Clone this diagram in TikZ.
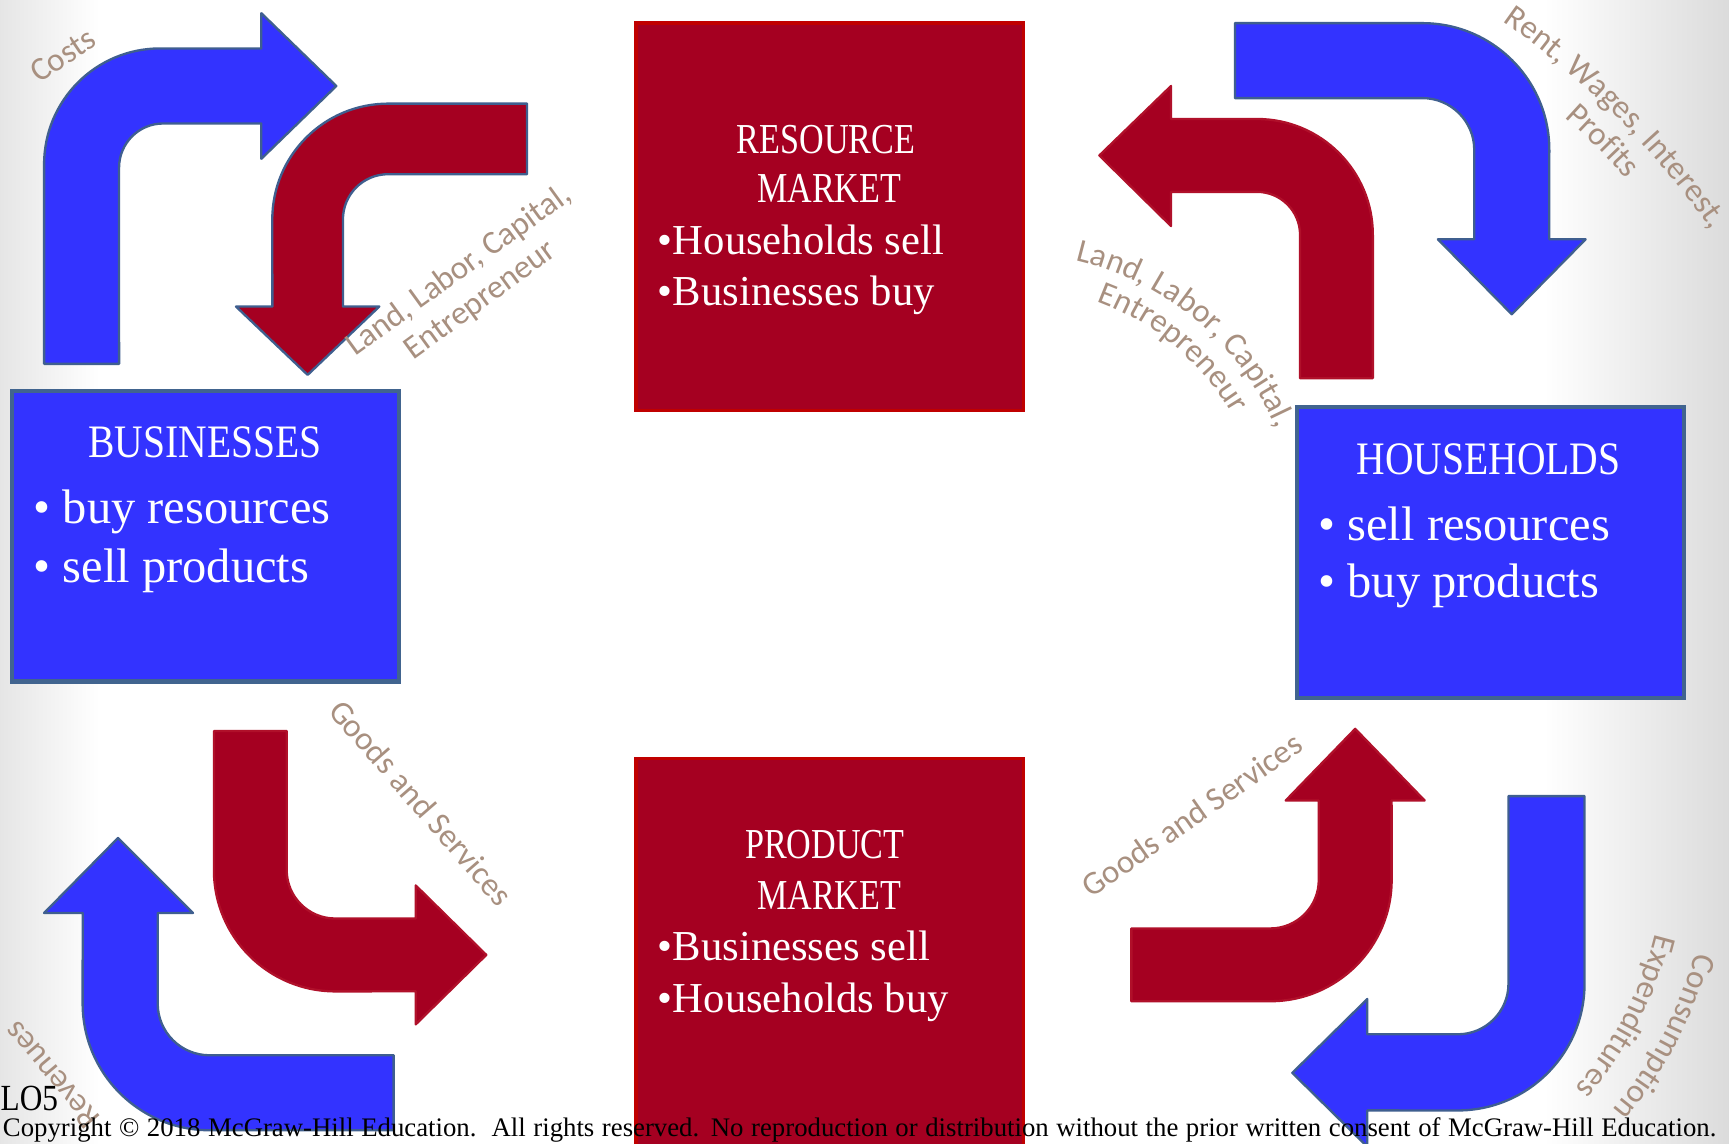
\documentclass[tikz,border=0pt]{standalone}
\usepackage{fontspec}
\setmainfont{Liberation Serif}
\newfontfamily\lblfont{Carlito}
\usetikzlibrary{decorations.text}
\definecolor{boxred}{HTML}{A50021}
\definecolor{boxredline}{HTML}{C00000}
\definecolor{boxblue}{HTML}{3333FF}
\definecolor{boxblueline}{HTML}{41648F}
\definecolor{arrowblue}{HTML}{3333FF}
\definecolor{arrowblueline}{HTML}{3F5F8F}
\definecolor{arrowred}{HTML}{A50021}
\definecolor{arrowredline}{HTML}{B0102A}
\definecolor{lbl}{HTML}{A89080}
\newcommand{\labelfmt}{\fontsize{8.5}{9.5}\lblfont\color{lbl}}

\begin{document}
\begin{tikzpicture}[x=0.01cm,y=-0.01cm,
  redbox/.style={draw=boxredline,fill=boxred,line width=0.9pt,minimum width=3.51cm},
  bluebox/.style={draw=boxblueline,fill=boxblue,line width=1.1pt,minimum width=3.51cm},
  mkttitle/.style={text=white,inner sep=0pt,anchor=base,xscale=0.8,font=\fontsize{11}{13}\selectfont},
  mktitem/.style={text=white,inner sep=0pt,anchor=base west,font=\fontsize{11}{13}\selectfont},
  boxtitle/.style={text=white,inner sep=0pt,anchor=base,xscale=0.85,font=\fontsize{12}{14}\selectfont},
  boxitem/.style={text=white,inner sep=0pt,anchor=base west,font=\fontsize{12.5}{15}\selectfont},
  flowlabel/.style={text=lbl,inner sep=0pt,align=center,font=\fontsize{8.5}{9.5}\lblfont},
  bluearrow/.style={fill=arrowblue,draw=arrowblueline,line width=0.6pt,line join=round},
  redarrow/.style={fill=arrowred,draw=arrowredline,line width=0.6pt,line join=round}]
\useasboundingbox (0,0) rectangle (1568,1037);
\clip (0,0) rectangle (1568,1037);
\fill[white] (0,0) rectangle (1568,1037);
\shade[left color=black!10,right color=white] (0,0) rectangle (90,1037);
\shade[left color=white,right color=black!14] (1400,0) rectangle (1568,1037);

\node[redbox,minimum height=3.51cm] (resmkt) at (752.5,196.5) {};
\node[redbox,minimum height=3.62cm] (prodmkt) at (752.5,869) {};
\node[bluebox,minimum height=2.63cm] (biz) at (186.5,486.5) {};
\node[bluebox,minimum height=2.64cm] (hh) at (1351.5,501) {};

\node[mkttitle] (restitle) at (749,139) {RESOURCE};
\node[mkttitle] (resmarket) at (752,184) {MARKET};
\node[mktitem] (ressell) at (596,231) {\textbullet Households sell};
\node[mktitem] (resbuy) at (596,277) {\textbullet Businesses buy};
\node[mkttitle] (prodtitle) at (748,779) {PRODUCT};
\node[mkttitle] (prodmarket) at (752,825) {MARKET};
\node[mktitem] (prodsell) at (596,871) {\textbullet Businesses sell};
\node[mktitem] (prodbuy) at (596,918) {\textbullet Households buy};
\node[boxtitle] (biztitle) at (186,415) {BUSINESSES};
\node[boxitem] (bizbuy) at (30,475) {\textbullet{} buy resources};
\node[boxitem] (bizsell) at (30,528) {\textbullet{} sell products};
\node[boxtitle] (hhtitle) at (1350,430) {HOUSEHOLDS};
\node[boxitem] (hhsell) at (1195,490) {\textbullet{} sell resources};
\node[boxitem] (hhbuy) at (1195,542) {\textbullet{} buy products};

\draw[bluearrow] (40,330) -- (40,149) arc[start angle=180,end angle=90,radius=1.05cm] -- (237,44) -- (237,12) -- (305,78) -- (237,144) -- (237,112) -- (148,112) arc[start angle=90,end angle=180,radius=0.40cm] -- (108,330) -- cycle;
\draw[redarrow,draw=arrowblueline] (478,94) -- (352,94) arc[start angle=90,end angle=180,radius=1.05cm] -- (247,278) -- (214,278) -- (279,340) -- (344,278) -- (311,278) -- (311,199) arc[start angle=180,end angle=90,radius=0.41cm] -- (478,158) -- cycle;
\draw[bluearrow] (1120,21) -- (1290,21) arc[start angle=90,end angle=0,radius=1.15cm] -- (1405,217) -- (1438,217) -- (1371,285) -- (1304,217) -- (1337,217) -- (1337,136) arc[start angle=0,end angle=90,radius=0.47cm] -- (1120,89) -- cycle;
\draw[redarrow] (1245,343) -- (1245,213) arc[start angle=0,end angle=90,radius=1.05cm] -- (1062,108) -- (1062,78) -- (997,141) -- (1062,205) -- (1062,174) -- (1140,174) arc[start angle=90,end angle=0,radius=0.39cm] -- (1179,343) -- cycle;
\draw[redarrow] (194,663) -- (194,789) arc[start angle=180,end angle=270,radius=1.10cm] -- (377,899) -- (377,929) -- (441,866) -- (377,803) -- (377,833) -- (304,833) arc[start angle=270,end angle=180,radius=0.44cm] -- (260,663) -- cycle;
\draw[bluearrow] (357,1025) -- (190,1025) arc[start angle=270,end angle=180,radius=1.15cm] -- (75,828) -- (40,828) -- (107,760) -- (175,828) -- (143,828) -- (143,910) arc[start angle=180,end angle=270,radius=0.47cm] -- (357,957) -- cycle;
\draw[redarrow] (1026,908) -- (1152,908) arc[start angle=270,end angle=360,radius=1.10cm] -- (1262,726) -- (1292,726) -- (1229,661) -- (1166,726) -- (1196,726) -- (1196,798) arc[start angle=0,end angle=-90,radius=0.44cm] -- (1026,842) -- cycle;
\draw[bluearrow] (1368,722) -- (1437,722) -- (1437,892) arc[start angle=0,end angle=-90,radius=1.15cm] -- (1240,1007) -- (1240,1040) -- (1172,973) -- (1240,906) -- (1240,938) -- (1322,938) arc[start angle=-90,end angle=0,radius=0.46cm] -- cycle;

\node[flowlabel,rotate=34] (costs) at (57,50) {Costs};
\node[flowlabel,rotate=36] (inputsbiz) at (426,259) {Land, Labor, Capital,\\Entrepreneur};
\node[flowlabel,rotate=-49] (goodsbiz) at (382,728) {Goods and Services};
\node[flowlabel,rotate=130] (revenues) at (47,975) {Revenues};
\node[flowlabel,rotate=35] (goodshh) at (1081,739) {Goods and Services};
\path[decorate,decoration={text along path,text align=center,text={|\labelfmt|Rent, Wages, Interest,}}] (1307,-16) arc[start angle=60,end angle=30,radius=7.66cm];
\path[decorate,decoration={text along path,text align=center,text={|\labelfmt|Profits}}] (1297,18) arc[start angle=60,end angle=30,radius=7.28cm];
\path[decorate,decoration={text along path,text align=center,text={|\labelfmt|Land, Labor, Capital,}}] (938,230) arc[start angle=85,end angle=15,radius=2.64cm];
\path[decorate,decoration={text along path,text align=center,text={|\labelfmt|Entrepreneur}}] (935,260) arc[start angle=85,end angle=15,radius=2.34cm];
\path[decorate,decoration={text along path,text align=center,text={|\labelfmt|Consumption}}] (1548,738) arc[start angle=5,end angle=-60,radius=3.67cm];
\path[decorate,decoration={text along path,text align=center,text={|\labelfmt|Expenditures}}] (1509,741) arc[start angle=5,end angle=-60,radius=3.28cm];

\node[anchor=base west,inner sep=0pt,xscale=0.85,font=\fontsize{9.5}{11}\selectfont] (lo) at (0,1007) {LO5};
\node[anchor=base west,inner sep=0pt,font=\fontsize{6.9}{8}\selectfont] (copy) at (2,1031) {\makebox[15.53cm][s]{Copyright \textcopyright{} 2018 McGraw-Hill Education.\ \ All rights reserved. No reproduction or distribution without the prior written consent of McGraw-Hill Education.}};
\end{tikzpicture}
\end{document}
